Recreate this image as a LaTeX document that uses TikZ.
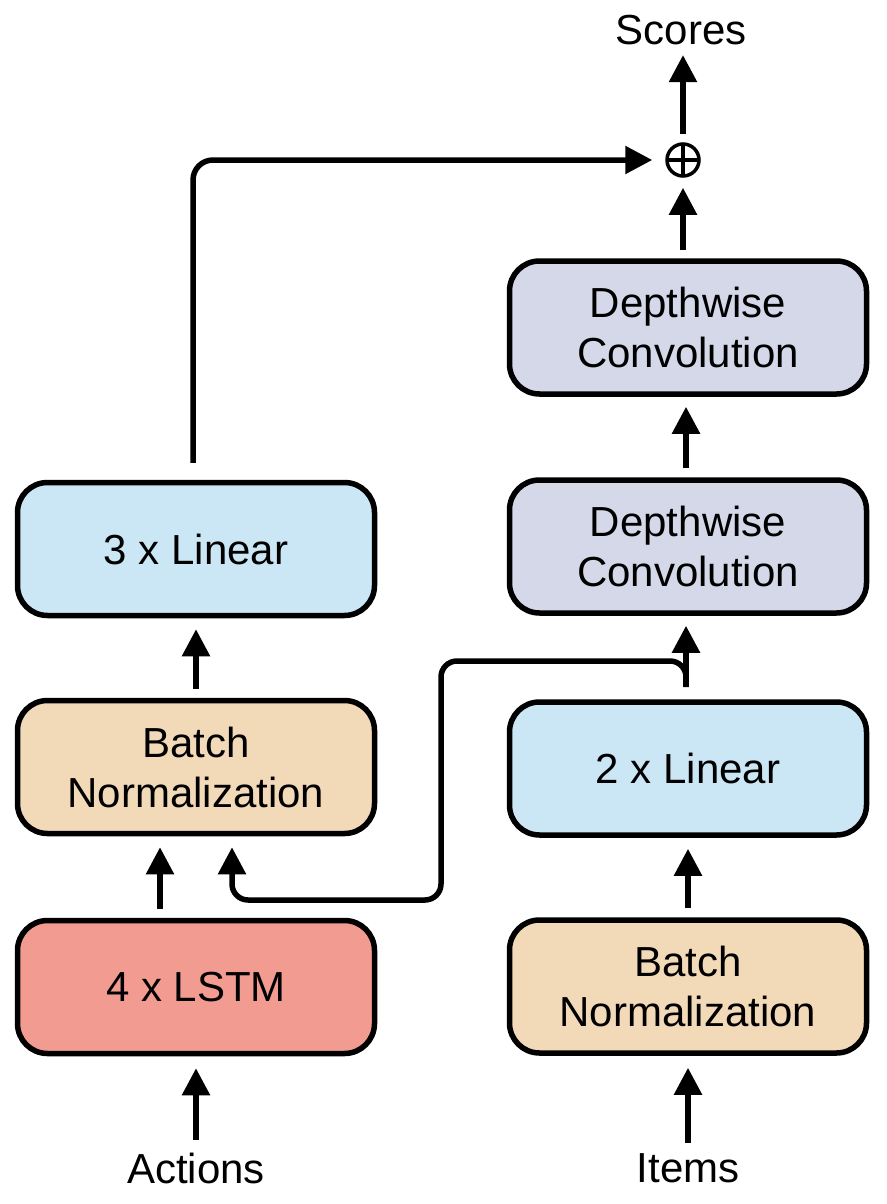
\documentclass[tikz,border=0pt]{standalone}
\usepackage{fontspec}
\setmainfont{Liberation Sans}
\usetikzlibrary{arrows.meta}
\definecolor{linblue}{HTML}{CBE6F4}
\definecolor{bntan}{HTML}{F2DAB8}
\definecolor{lstmred}{HTML}{F29C91}
\definecolor{dcgray}{HTML}{D5D8E8}
\begin{document}
\begin{tikzpicture}[x=1pt,y=-1pt,
  box/.style={draw, line width=5.5pt, rounded corners=30pt, minimum width=357pt,
    minimum height=133pt, align=center, inner sep=0pt,
    font=\fontsize{42}{50}\selectfont},
  lbl/.style={inner sep=0pt, font=\fontsize{42}{50}\selectfont},
  arr/.style={line width=5.5pt, -{Triangle[length=27pt,width=27pt]}},
]
\useasboundingbox (0,0) rectangle (886,1204);

% left column
\node[box, fill=linblue] (lin3) at (196,549) {3 x Linear};
\node[box, fill=bntan] (bnL) at (196,767) {Batch\\Normalization};
\node[box, fill=lstmred] (lstm) at (196,987) {4 x LSTM};
\node[lbl] (actions) at (196,1168) {Actions};

% right column
\node[box, fill=dcgray] (dc1) at (688,327.5) {Depthwise\\Convolution};
\node[box, fill=dcgray] (dc2) at (688,546.5) {Depthwise\\Convolution};
\node[box, fill=linblue] (lin2) at (688,768.5) {2 x Linear};
\node[box, fill=bntan] (bnR) at (688,986.5) {Batch\\Normalization};
\node[lbl] (items) at (688,1168) {Items};

% sum and output
\node[circle, draw, line width=3.5pt, minimum size=32pt, inner sep=0pt] (plus) at (683,160) {};
\draw[line width=3.5pt] ([yshift=14.5pt]plus.center) -- ([yshift=-14.5pt]plus.center);
\draw[line width=3.5pt] ([xshift=-14.5pt]plus.center) -- ([xshift=14.5pt]plus.center);
\node[lbl] (scores) at (681,30) {Scores};

% connectors
\draw[arr, shorten <=12pt, shorten >=12pt] (actions.north) -- (lstm.south);
\draw[arr, shorten <=10pt, shorten >=12pt] (items.north -| bnR.south) -- (bnR.south);
\draw[arr, shorten <=9pt, shorten >=11pt] ([xshift=-36pt]lstm.north) -- ([xshift=-36pt]bnL.south);
\draw[arr, shorten <=9pt, shorten >=11pt] (bnL.north) -- (lin3.south);
\draw[arr, shorten <=9pt, shorten >=11pt] (bnR.north) -- (lin2.south);
\draw[arr, shorten <=9pt, shorten >=10pt] ([xshift=-2pt]dc2.north) -- ([xshift=-2pt]dc1.south);
\draw[arr, shorten <=8pt, shorten >=10pt] (plus |- dc1.north) -- (plus.south);
\draw[arr, shorten <=8pt, shorten >=10pt] (plus.north) -- (plus |- scores.south);

\coordinate (split) at (686,687);
\draw[arr, shorten >=10pt] (split) -- ([xshift=-2pt]dc2.south);
\draw[arr, rounded corners=16pt, shorten >=11pt] (split) |- (441,661) |- (232,900)
  -- (232,900 |- bnL.south);

\draw[arr, rounded corners=20pt, shorten <=17pt, shorten >=13pt]
  ([xshift=-3pt]lin3.north) |- (plus.west);
\end{tikzpicture}
\end{document}
